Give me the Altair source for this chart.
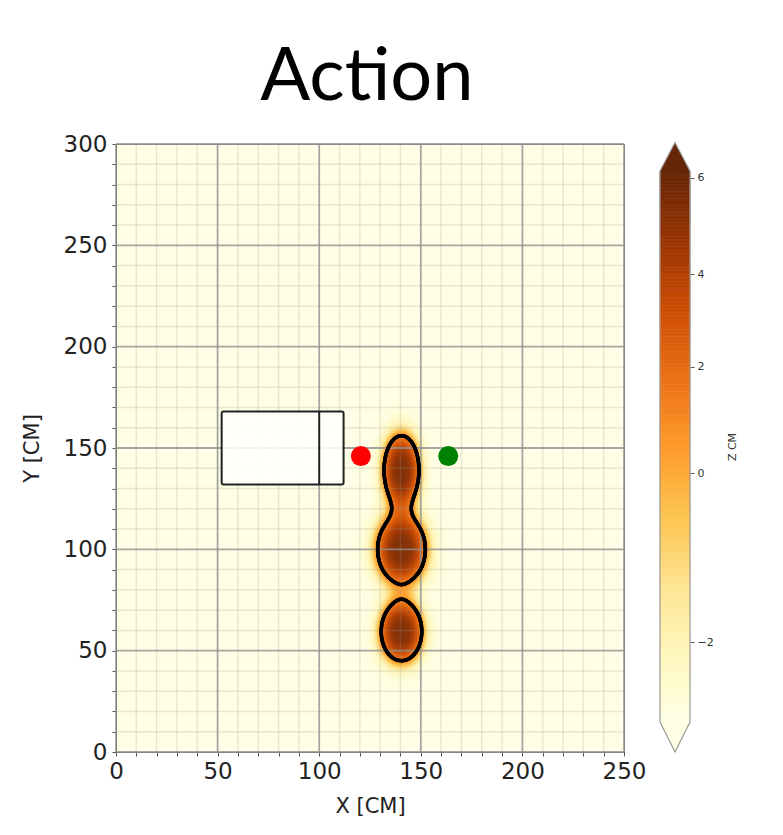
import numpy as np
import pandas as pd
import altair as alt

# ---------------- text ----------------
TITLE = "Action"
X_TITLE = "X [CM]"
Y_TITLE = "Y [CM]"
CBAR_TITLE = "Z CM"

# ---------------- axes ----------------
X_DOMAIN = [0, 250]
Y_DOMAIN = [0, 300]
X_TICKS = list(range(0, 251, 10))
Y_TICKS = list(range(0, 301, 10))
MAJOR_STEP = 50

# ---------------- heat field (blob parameters) ----------------
BLOB_CX = [140.5, 140.5, 140.5]
BLOB_CY = [139.0, 100.0, 59.5]
BLOB_SX = [9.8, 13.4, 11.4]
BLOB_SY = [19.5, 18.7, 16.5]
BLOB_AMP = [9.0, 9.0, 9.0]
BLOB_SHARPNESS = 1.5
FIELD_FLOOR = -3.6
CONTOUR_LEVEL = 1.0

# ---------------- colour bar ----------------
CBAR_TICKS = [-2, 0, 2, 4, 6]
CBAR_VALUES = [-3.6, -2.0, 0.0, 2.0, 4.0, 6.0, 6.15]
CBAR_FRACTIONS = [0.0, 0.145, 0.451, 0.645, 0.813, 0.988, 1.0]
YLORBR = ["#ffffe5", "#fff7bc", "#fee391", "#fec44f", "#fe9929",
          "#ec7014", "#cc4c02", "#993404", "#662506"]

# ---------------- objects ----------------
BOX_X = [52, 112]
BOX_Y = [132, 168]
BOX_DIVIDER_X = [100]
MARKER_X = [120.5, 163.5]
MARKER_Y = [146, 146]
MARKER_COLORS = ["#ff0000", "#008000"]

# ---------------- layout ----------------
PLOT_W, PLOT_H = 508, 608
CBAR_W = 30
BAR_TOP, BAR_BOTTOM = 27, 578


def field(x, y):
    z = np.full(np.broadcast(x, y).shape, FIELD_FLOOR, dtype=float)
    for cx, cy, sx, sy, a in zip(BLOB_CX, BLOB_CY, BLOB_SX, BLOB_SY, BLOB_AMP):
        q = ((x - cx) / sx) ** 2 + ((y - cy) / sy) ** 2
        z = z + a * np.exp(-q ** BLOB_SHARPNESS)
    return z


def to_frac(z):
    return np.interp(z, CBAR_VALUES, CBAR_FRACTIONS)


# heat-map cells
cx = np.arange(108.0, 174.0, 1.0)
cy = np.arange(14.0, 188.0, 1.0)
CX, CY = np.meshgrid(cx, cy)
Z = field(CX, CY)
mask = Z > FIELD_FLOOR + 0.03
heat_df = pd.DataFrame({
    "x0": CX[mask] - 0.5, "x1": CX[mask] + 0.5,
    "y0": CY[mask] - 0.5, "y1": CY[mask] + 0.5,
    "t": to_frac(Z[mask]),
})

# contour by marching squares
gx = np.arange(108.0, 174.01, 0.5)
gy = np.arange(14.0, 188.01, 0.5)
GX, GY = np.meshgrid(gx, gy)
G = field(GX, GY) - CONTOUR_LEVEL
segs = []
ny, nx = G.shape
for j in range(ny - 1):
    for i in range(nx - 1):
        c = [(gx[i], gy[j], G[j, i]), (gx[i + 1], gy[j], G[j, i + 1]),
             (gx[i + 1], gy[j + 1], G[j + 1, i + 1]), (gx[i], gy[j + 1], G[j + 1, i])]
        pts = []
        for a, b in [(0, 1), (1, 2), (3, 2), (0, 3)]:
            xa, ya, va = c[a]
            xb, yb, vb = c[b]
            if (va > 0) != (vb > 0):
                f = va / (va - vb)
                pts.append((xa + f * (xb - xa), ya + f * (yb - ya)))
        if len(pts) == 2:
            segs.append((*pts[0], *pts[1]))
        elif len(pts) == 4:
            segs.append((*pts[0], *pts[1]))
            segs.append((*pts[2], *pts[3]))
contour_df = pd.DataFrame(segs, columns=["xa", "ya", "xb", "yb"])

minor_x = pd.DataFrame({"v": [v for v in X_TICKS if v % MAJOR_STEP]})
minor_y = pd.DataFrame({"v": [v for v in Y_TICKS if v % MAJOR_STEP]})
major_x = pd.DataFrame({"v": [v for v in X_TICKS if v % MAJOR_STEP == 0]})
major_y = pd.DataFrame({"v": [v for v in Y_TICKS if v % MAJOR_STEP == 0]})
box_df = pd.DataFrame({"x0": [BOX_X[0]], "x1": [BOX_X[1]], "y0": [BOX_Y[0]], "y1": [BOX_Y[1]]})
div_df = pd.DataFrame({"x": BOX_DIVIDER_X, "y0": [BOX_Y[0]], "y1": [BOX_Y[1]]})
marker_df = pd.DataFrame({"x": MARKER_X, "y": MARKER_Y, "c": MARKER_COLORS})

color_scale = alt.Scale(domain=[float(v) for v in np.linspace(0, 1, len(YLORBR))],
                        range=YLORBR, interpolate="rgb", clamp=True)
xs = alt.Scale(domain=X_DOMAIN, nice=False, zero=False)
ys = alt.Scale(domain=Y_DOMAIN, nice=False, zero=False)
label_expr = f"datum.value % {MAJOR_STEP} === 0 ? datum.label : ''"
common_axis = dict(grid=False, labelFont="DejaVu Sans", titleFont="DejaVu Sans",
                   labelFontSize=23, titleFontSize=21, labelColor="#222",
                   titleColor="#222", titleFontWeight="normal", domainColor="#555",
                   tickColor="#555", tickSize=4, labelExpr=label_expr,
                   labelOverlap=False, labelFlush=False)
x_axis = alt.Axis(values=X_TICKS, labelPadding=4, titlePadding=12, **common_axis)
y_axis = alt.Axis(values=Y_TICKS, labelPadding=5, titlePadding=21, **common_axis)


def X(f):
    return alt.X(f, type="quantitative", scale=xs, axis=x_axis, title=X_TITLE)


def Y(f):
    return alt.Y(f, type="quantitative", scale=ys, axis=y_axis, title=Y_TITLE)


heat = alt.Chart(heat_df).mark_rect(strokeWidth=0.6).encode(
    x=X("x0"), x2="x1", y=Y("y0"), y2="y1",
    color=alt.Color("t:Q", scale=color_scale, legend=None),
    stroke=alt.Stroke("t:Q", scale=color_scale, legend=None))
grid_minor_v = alt.Chart(minor_x).mark_rule(color="#9a9a80", strokeWidth=1.5, opacity=0.22).encode(x=X("v"))
grid_minor_h = alt.Chart(minor_y).mark_rule(color="#9a9a80", strokeWidth=1.5, opacity=0.22).encode(y=Y("v"))
grid_major_v = alt.Chart(major_x).mark_rule(color="#909090", strokeWidth=1.8, opacity=0.8).encode(x=X("v"))
grid_major_h = alt.Chart(major_y).mark_rule(color="#909090", strokeWidth=1.8, opacity=0.8).encode(y=Y("v"))
box_fill = alt.Chart(box_df).mark_rect(fill="white", opacity=0.88).encode(
    x=X("x0"), x2="x1", y=Y("y0"), y2="y1")
contours = alt.Chart(contour_df).mark_rule(color="black", strokeWidth=3.6, strokeCap="round").encode(
    x=X("xa"), y=Y("ya"), x2="xb", y2="yb")
box_line = alt.Chart(box_df).mark_rect(filled=False, stroke="#222", strokeWidth=2, cornerRadius=2).encode(
    x=X("x0"), x2="x1", y=Y("y0"), y2="y1")
divider = alt.Chart(div_df).mark_rule(color="#222", strokeWidth=2).encode(
    x=X("x"), y=Y("y0"), y2="y1")
markers = alt.Chart(marker_df).mark_circle(size=400, opacity=1).encode(
    x=X("x"), y=Y("y"), fill=alt.Fill("c:N", scale=None))

main = alt.layer(heat, grid_minor_v, grid_minor_h, grid_major_v, grid_major_h,
                 box_fill, contours, box_line, divider, markers).properties(
    width=PLOT_W, height=PLOT_H,
    view=alt.ViewBackground(fill="#fffee6", stroke="#777", strokeWidth=1))

# ---------------- colour bar panel ----------------
edges = np.linspace(0, 1, 161)
edge_vals = np.interp(edges, CBAR_FRACTIONS, CBAR_VALUES)
stripe_df = pd.DataFrame({"v0": edge_vals[:-1], "v1": edge_vals[1:],
                          "t": (edges[:-1] + edges[1:]) / 2})
cb_range = [BAR_BOTTOM - f * (BAR_BOTTOM - BAR_TOP) for f in CBAR_FRACTIONS]
cb_scale = alt.Scale(domain=CBAR_VALUES, range=cb_range, nice=False, zero=False)
cb_axis = alt.Axis(orient="right", values=CBAR_TICKS, tickSize=4, domain=False, grid=False,
                   labelFont="DejaVu Sans", labelFontSize=11, labelColor="#333",
                   tickColor="#555", labelPadding=3, titleFont="DejaVu Sans",
                   titleFontSize=11, titleColor="#333", titleFontWeight="normal",
                   titleAngle=270, titlePadding=24)


def CY(f):
    return alt.Y(f, type="quantitative", scale=cb_scale, axis=cb_axis, title=CBAR_TITLE)


stripes = alt.Chart(stripe_df).mark_rect().encode(
    x=alt.value(0), x2=alt.value(CBAR_W), y=CY("v0"), y2="v1",
    color=alt.Color("t:Q", scale=color_scale, legend=None),
    stroke=alt.Stroke("t:Q", scale=color_scale, legend=None),
    strokeWidth=alt.value(0.6))
side_df = pd.DataFrame({"v0": [CBAR_VALUES[0]], "v1": [CBAR_VALUES[-1]]})
side_l = alt.Chart(side_df).mark_rule(color="#999", strokeWidth=1.2).encode(
    x=alt.value(0), y=CY("v0"), y2="v1")
side_r = alt.Chart(side_df).mark_rule(color="#999", strokeWidth=1.2).encode(
    x=alt.value(CBAR_W), y=CY("v0"), y2="v1")
top_df = pd.DataFrame({"v": [CBAR_VALUES[-1]], "t": [1.0]})
bot_df = pd.DataFrame({"v": [CBAR_VALUES[0]], "t": [0.0]})
tri_size = CBAR_W ** 2
tri_top = alt.Chart(top_df).mark_point(shape="M -1 0 L 0 -1.9 L 1 0", size=tri_size, filled=True,
                                       stroke="#999", strokeWidth=1.2, opacity=1).encode(
    x=alt.value(CBAR_W / 2), y=CY("v"), color=alt.Color("t:Q", scale=color_scale, legend=None))
tri_bot = alt.Chart(bot_df).mark_point(shape="M -1 0 L 0 2 L 1 0", size=tri_size, filled=True,
                                       stroke="#999", strokeWidth=1.2, opacity=1).encode(
    x=alt.value(CBAR_W / 2), y=CY("v"), color=alt.Color("t:Q", scale=color_scale, legend=None))

cbar = alt.layer(stripes, side_l, side_r, tri_top, tri_bot).properties(
    width=CBAR_W, height=PLOT_H)

chart = alt.hconcat(main, cbar, spacing=10).resolve_scale(
    x="independent", y="independent").properties(
    title=alt.TitleParams(TITLE, font="Lato", fontSize=74, fontWeight="normal",
                          color="black", anchor="middle", offset=17, dx=-12),
    padding={"left": 12, "top": 32, "right": 5, "bottom": 5},
).configure_view(strokeWidth=0)

chart.save("out.html", embed_options={"renderer": "svg", "actions": False})
